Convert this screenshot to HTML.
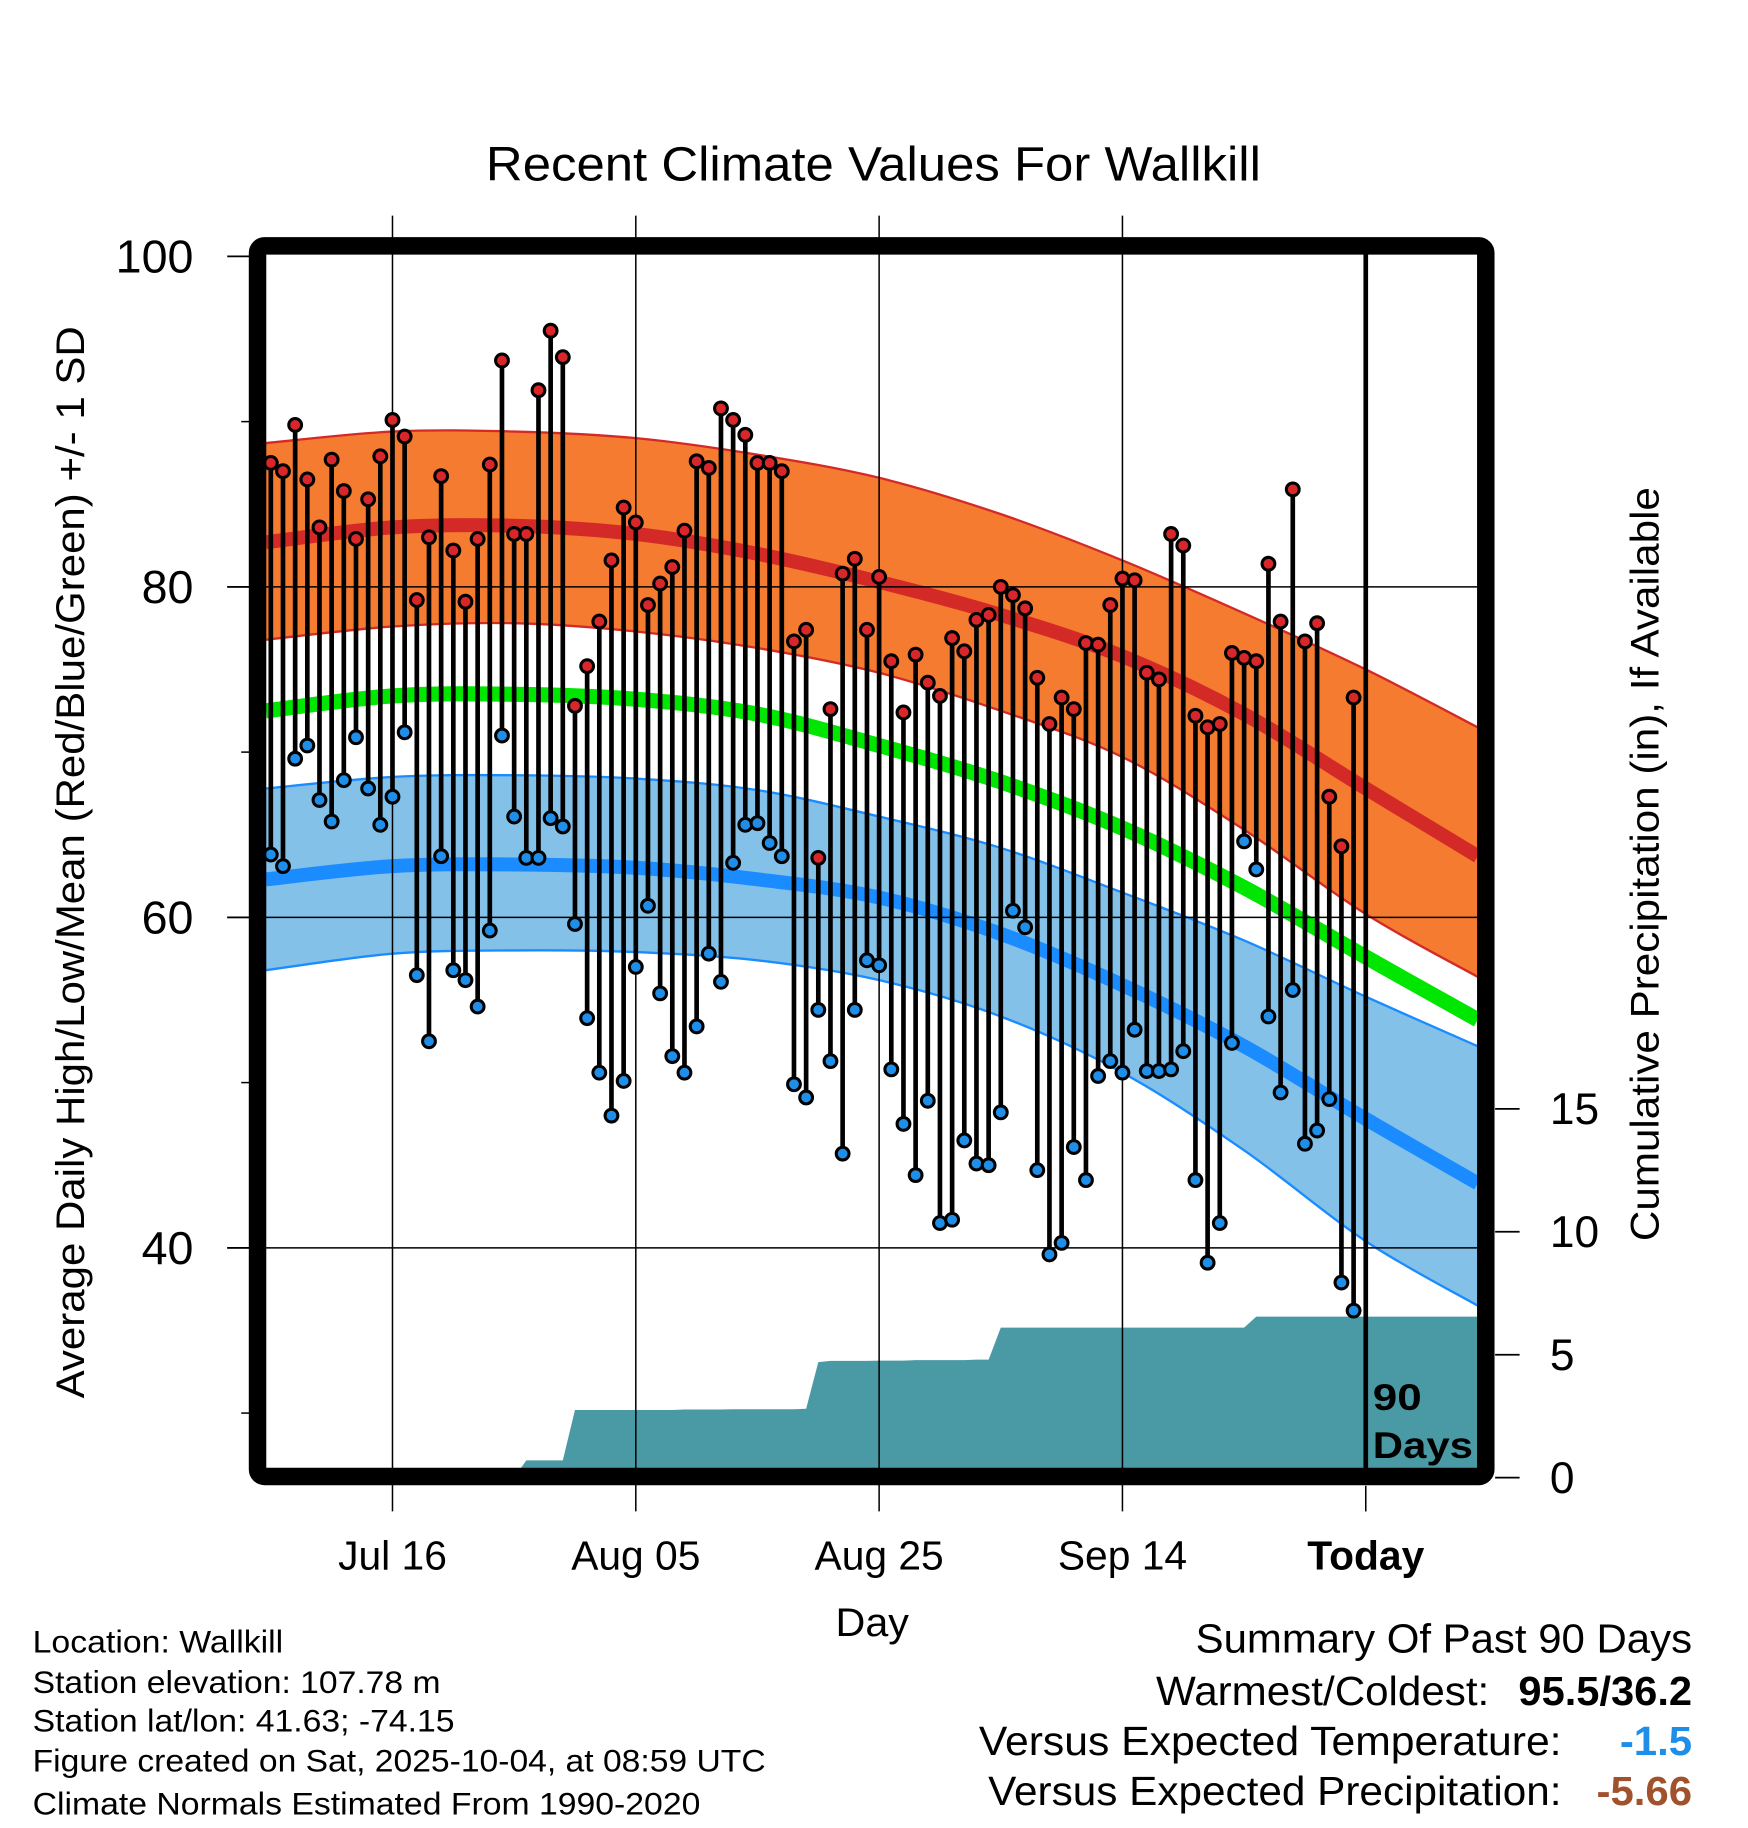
<!DOCTYPE html>
<html><head><meta charset="utf-8"><title>Recent Climate Values For Wallkill</title>
<style>
html,body{margin:0;padding:0;background:#fff;}
svg{display:block;font-family:"Liberation Sans",Arial,sans-serif;}
</style></head>
<body>
<svg id="chart" width="1748" height="1828" viewBox="0 0 1500 1568.65" preserveAspectRatio="none" xmlns="http://www.w3.org/2000/svg">
<defs><clipPath id="plotclip"><rect x="228" y="218" width="1040" height="1042"/></clipPath></defs>
<text x="417" y="155" font-size="41" textLength="665" lengthAdjust="spacingAndGlyphs">Recent Climate Values For Wallkill</text>
<g id="bands" clip-path="url(#plotclip)"></g>
<g id="precip" clip-path="url(#plotclip)"></g>
<g id="grid"></g>
<g id="stems" clip-path="url(#plotclip)"></g>
<g id="axes"></g>
<rect x="221" y="211" width="1054" height="1056" rx="6" fill="none" stroke="#000" stroke-width="15"/>
<text x="717" y="1404" font-size="34" textLength="63" lengthAdjust="spacingAndGlyphs">Day</text>
<text transform="translate(72,1200) rotate(-90)" font-size="34" textLength="920" lengthAdjust="spacingAndGlyphs">Average Daily High/Low/Mean (Red/Blue/Green) +/- 1 SD</text>
<text transform="translate(1423,1065) rotate(-90)" font-size="34" textLength="647" lengthAdjust="spacingAndGlyphs">Cumulative Precipitation (in), If Available</text>
<text x="1178" y="1210" font-size="32" font-weight="bold" textLength="42" lengthAdjust="spacingAndGlyphs">90</text>
<text x="1178" y="1251" font-size="32" font-weight="bold" textLength="86" lengthAdjust="spacingAndGlyphs">Days</text>
<g font-size="27">
<text x="28" y="1418" textLength="215" lengthAdjust="spacingAndGlyphs">Location: Wallkill</text>
<text x="28" y="1453" textLength="350" lengthAdjust="spacingAndGlyphs">Station elevation: 107.78 m</text>
<text x="28" y="1486" textLength="362" lengthAdjust="spacingAndGlyphs">Station lat/lon: 41.63; -74.15</text>
<text x="28" y="1520" textLength="629" lengthAdjust="spacingAndGlyphs">Figure created on Sat, 2025-10-04, at 08:59 UTC</text>
<text x="28" y="1557" textLength="573" lengthAdjust="spacingAndGlyphs">Climate Normals Estimated From 1990-2020</text>
</g>
<g font-size="35">
<text x="1026" y="1418" textLength="426" lengthAdjust="spacingAndGlyphs">Summary Of Past 90 Days</text>
<text x="992" y="1463" textLength="286" lengthAdjust="spacingAndGlyphs">Warmest/Coldest:</text>
<text x="1303" y="1463" font-weight="bold" textLength="149" lengthAdjust="spacingAndGlyphs">95.5/36.2</text>
<text x="840" y="1506" textLength="500" lengthAdjust="spacingAndGlyphs">Versus Expected Temperature:</text>
<text x="1390" y="1506" font-weight="bold" fill="#1e8ee8" textLength="62" lengthAdjust="spacingAndGlyphs">-1.5</text>
<text x="848" y="1549" textLength="492" lengthAdjust="spacingAndGlyphs">Versus Expected Precipitation:</text>
<text x="1370" y="1549" font-weight="bold" fill="#a0522d" textLength="82" lengthAdjust="spacingAndGlyphs">-5.66</text>
</g>
</svg>
<script>
// normals (offset in days relative to today)
const normDays = [-90.4,-80,-70,-60,-50,-40,-30,-20,-10,0,9.2];
const highPlusSD = [88.7,89.4,89.4,89.0,88.0,86.6,84.4,81.6,78.4,75.0,71.5];
const highMean   = [82.7,83.6,83.7,83.2,82.0,80.3,78.3,75.8,72.3,67.8,63.7];
const highMinusSD= [76.8,77.6,77.8,77.3,76.3,74.8,72.5,69.7,65.3,60.2,56.4];
const meanTemp   = [72.5,73.4,73.5,73.2,72.3,70.4,68.2,65.4,61.8,57.6,53.8];
const lowPlusSD  = [67.8,68.5,68.6,68.4,67.7,66.1,64.2,61.5,58.6,55.2,52.2];
const lowMean    = [62.3,63.1,63.2,63.0,62.3,61.2,59.0,55.9,52.2,47.8,43.9];
const lowMinusSD = [56.8,57.8,58.0,57.9,57.4,56.2,54.0,50.6,45.9,40.4,36.5];
// daily observations, 90 days ending yesterday
const dailyHigh = [87.5,87.0,89.8,86.5,83.6,87.7,85.8,82.9,85.3,87.9,90.1,89.1,79.2,83.0,86.7,82.2,79.1,82.9,87.4,93.7,83.2,83.2,91.9,95.5,93.9,72.8,75.2,77.9,81.6,84.8,83.9,78.9,80.2,81.2,83.4,87.6,87.2,90.8,90.1,89.2,87.5,87.5,87.0,76.7,77.4,63.6,72.6,80.8,81.7,77.4,80.6,75.5,72.4,75.9,74.2,73.4,76.9,76.1,78.0,78.3,80.0,79.5,78.7,74.5,71.7,73.3,72.6,76.6,76.5,78.9,80.5,80.4,74.8,74.4,83.2,82.5,72.2,71.5,71.7,76.0,75.7,75.5,81.4,77.9,85.9,76.7,77.8,67.3,64.3,73.3];
const dailyLow = [63.8,63.1,69.6,70.4,67.1,65.8,68.3,70.9,67.8,65.6,67.3,71.2,56.5,52.5,63.7,56.8,56.2,54.6,59.2,71.0,66.1,63.6,63.6,66.0,65.5,59.6,53.9,50.6,48.0,50.1,57.0,60.7,55.4,51.6,50.6,53.4,57.8,56.1,63.3,65.6,65.7,64.5,63.7,49.9,49.1,54.4,51.3,45.7,54.4,57.4,57.1,50.8,47.5,44.4,48.9,41.5,41.7,46.5,45.1,45.0,48.2,60.4,59.4,44.7,39.6,40.3,46.1,44.1,50.4,51.3,50.6,53.2,50.7,50.7,50.8,51.9,44.1,39.1,41.5,52.4,64.6,62.9,54.0,49.4,55.6,46.3,47.1,49.0,37.9,36.2];
const cumPrecip = [0,0,0,0,0,0,0,0,0,0,0,0,0,0,0,0,0,0,0,0,0,0.7,0.7,0.7,0.7,2.75,2.75,2.75,2.75,2.75,2.75,2.75,2.75,2.75,2.77,2.77,2.77,2.77,2.78,2.78,2.78,2.78,2.78,2.78,2.8,4.7,4.75,4.75,4.75,4.75,4.76,4.76,4.76,4.78,4.78,4.78,4.78,4.78,4.8,4.8,6.1,6.1,6.1,6.1,6.1,6.1,6.1,6.1,6.1,6.1,6.1,6.1,6.1,6.1,6.1,6.1,6.1,6.1,6.1,6.1,6.1,6.55,6.55,6.55,6.55,6.55,6.55,6.55,6.55,6.55];
const tempTicks = [40,60,80,100];
const tempMinorTicks = [30,50,70,90];
const precipTicks = [0,5,10,15];
const dateLabels = ["Jul 16","Aug 05","Aug 25","Sep 14","Today"];
const dateOffsets = [-80,-60,-40,-20,0];

const NS="http://www.w3.org/2000/svg";
const xDay = d => 1172 + d*10.44;
const yT = t => 220 + (100-t)*14.18;
const yP = p => 1268 - p*21.1;
function mk(tag,attrs,parent){const e=document.createElementNS(NS,tag);for(const k in attrs)e.setAttribute(k,attrs[k]);parent.appendChild(e);return e;}
function pts(arr){return normDays.map((d,i)=>[xDay(d),yT(arr[i])]);}
function smooth(p){let s="";for(let i=0;i<p.length-1;i++){const p0=p[Math.max(i-1,0)],p1=p[i],p2=p[i+1],p3=p[Math.min(i+2,p.length-1)];
const c1=[p1[0]+(p2[0]-p0[0])/6,p1[1]+(p2[1]-p0[1])/6],c2=[p2[0]-(p3[0]-p1[0])/6,p2[1]-(p3[1]-p1[1])/6];
s+=(i===0?"M"+p1[0]+","+p1[1]:"")+" C"+c1[0]+","+c1[1]+" "+c2[0]+","+c2[1]+" "+p2[0]+","+p2[1];}return s;}
function bandPath(up,lo){const a=smooth(pts(up));const b=smooth(pts(lo).reverse());return a+" L"+b.slice(1)+" Z";}
const bands=document.getElementById('bands');
let e;
e=mk('path',{d:bandPath(highPlusSD,highMinusSD),fill:"#f47b2f",stroke:"none"},bands);


e=mk('path',{d:bandPath(lowPlusSD,lowMinusSD),fill:"#83c1e8",stroke:"none"},bands);


[[highPlusSD,"#d42a27",2,'high-plus-sd-line'],[highMinusSD,"#d42a27",2,'high-minus-sd-line'],[highMean,"#d42a27",12,'high-mean-line'],[meanTemp,"#00e600",13,'mean-temp-line'],[lowPlusSD,"#1a8cff",2,'low-plus-sd-line'],[lowMinusSD,"#1a8cff",2,'low-minus-sd-line'],[lowMean,"#1a8cff",12,'low-mean-line']].forEach(c=>{
  const l=mk('path',{d:smooth(pts(c[0])),fill:"none",stroke:c[1],"stroke-width":c[2]},bands);
  
  
});
// precipitation
const pg=document.getElementById('precip');
let pd="M"+xDay(-90.5)+","+yP(0);
cumPrecip.forEach((v,i)=>{pd+=" L"+xDay(i-90)+","+yP(v);});
pd+=" L"+xDay(10)+","+yP(cumPrecip[cumPrecip.length-1])+" L"+xDay(10)+","+yP(-1)+" L"+xDay(-90.5)+","+yP(-1)+" Z";
e=mk('path',{d:pd,fill:"#4a9aa5"},pg);


// grid
const g=document.getElementById('grid');
tempTicks.forEach(t=>{
  if(t<100){const l=mk('line',{x1:195,x2:1268,y1:yT(t),y2:yT(t),stroke:"#000","stroke-width":1.3},g);
  
  }
});
dateOffsets.forEach((d,i)=>{
  if(d<0){const l=mk('line',{x1:xDay(d),x2:xDay(d),y1:185,y2:1297,stroke:"#000","stroke-width":1.3},g);
  
  }
});
// stems and dots
const sg=document.getElementById('stems');
dailyHigh.forEach((h,i)=>{
  const x=xDay(i-90);
  const s=mk('line',{x1:x,x2:x,y1:yT(h),y2:yT(dailyLow[i]),stroke:"#000","stroke-width":4},sg);
  
  
});
dailyHigh.forEach((h,i)=>{
  const x=xDay(i-90);
  const a=mk('circle',{cx:x,cy:yT(h),r:5.5,fill:"#d8262a",stroke:"#000","stroke-width":2.6},sg);
  
  
  const b=mk('circle',{cx:x,cy:yT(dailyLow[i]),r:5.5,fill:"#1e8ee8",stroke:"#000","stroke-width":2.6},sg);
  
  
});
// today line (inside plot) and tick below
e=mk('line',{x1:xDay(0),x2:xDay(0),y1:215,y2:1262,stroke:"#000","stroke-width":4},sg.parentNode);


// axes
const ax=document.getElementById('axes');
tempTicks.forEach(t=>{
  const tk=mk('line',{x1:195,x2:215,y1:yT(t),y2:yT(t),stroke:"#000","stroke-width":1.5},ax);
  
  
  const lb=mk('text',{x:166,y:yT(t)+14,"font-size":40,"text-anchor":"end"},ax);
  lb.textContent=t;
  
  
});
tempMinorTicks.forEach(t=>{
  const tk=mk('line',{x1:207,x2:215,y1:yT(t),y2:yT(t),stroke:"#000","stroke-width":1.3},ax);
  
  
});
precipTicks.forEach(p=>{
  const tk=mk('line',{x1:1283,x2:1304,y1:yP(p),y2:yP(p),stroke:"#000","stroke-width":1.5},ax);
  
  
  const lb=mk('text',{x:1330,y:yP(p)+13,"font-size":38},ax);
  lb.textContent=p;
  
  
});
dateLabels.forEach((t,i)=>{
  const x=xDay(dateOffsets[i]);
  if(dateOffsets[i]===0){const tk=mk('line',{x1:x,x2:x,y1:1275,y2:1297,stroke:"#000","stroke-width":1.3},ax);
  
  }
  const lb=mk('text',{x:x,y:1347,"font-size":35,"text-anchor":"middle","font-weight":dateOffsets[i]===0?"bold":"normal"},ax);
  lb.textContent=t;
  
  
});
</script>
</body></html>
